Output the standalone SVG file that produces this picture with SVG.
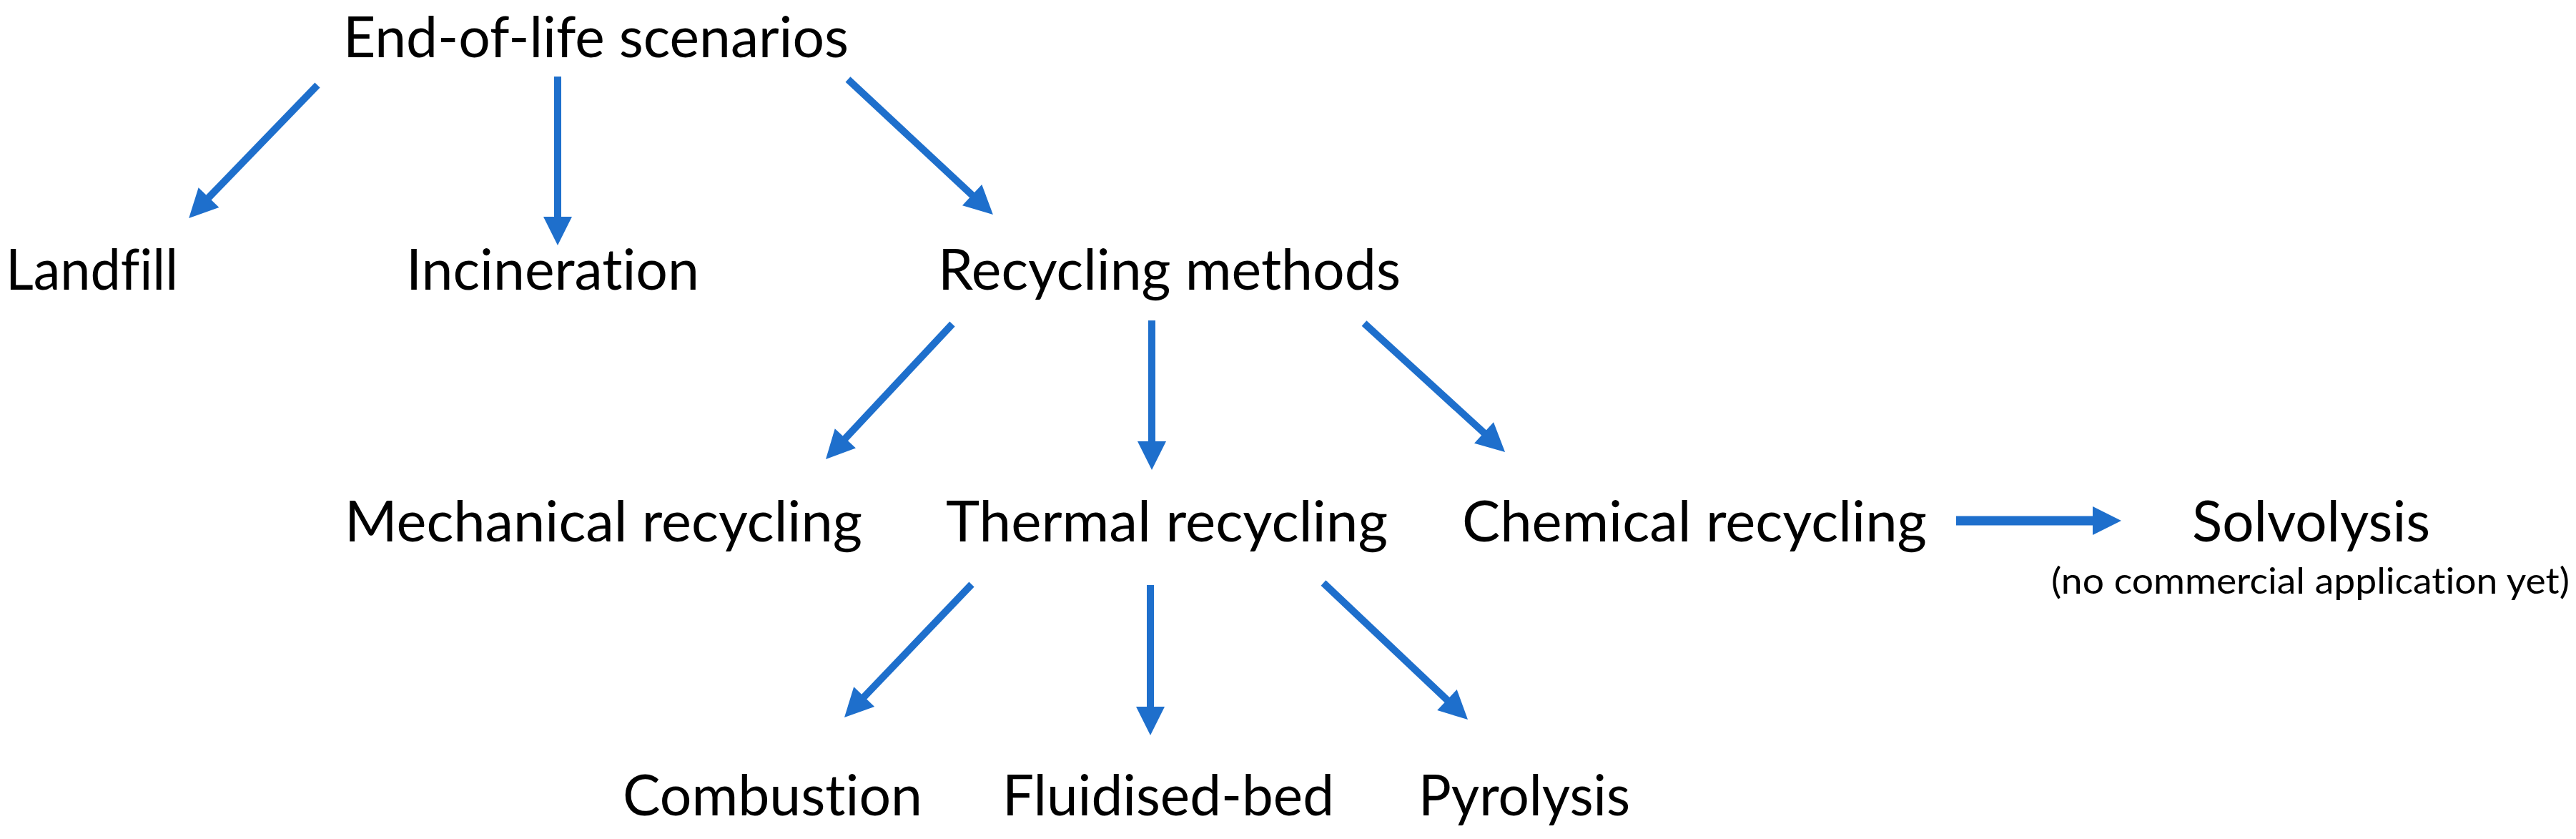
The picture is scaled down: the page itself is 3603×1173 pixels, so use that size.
<svg xmlns="http://www.w3.org/2000/svg" width="3603" height="1173" viewBox="0 0 3603 1173">
<style>
  .lbl { font-family: Lato, "Liberation Sans", sans-serif; font-size: 80px; fill: #000; font-variant-ligatures: none; font-feature-settings: "liga" 0, "clig" 0, "dlig" 0; }
  .sub { font-family: Lato, "Liberation Sans", sans-serif; font-size: 50px; fill: #000; font-variant-ligatures: none; font-feature-settings: "liga" 0, "clig" 0, "dlig" 0; }
  .con { stroke: #1E6FCC; stroke-width: 10; fill: none; marker-end: url(#head); }
  .con.thick { stroke-width: 13; }
</style>
<defs>
  <marker id="head" markerUnits="userSpaceOnUse" markerWidth="42" markerHeight="42" refX="2" refY="20" orient="auto" overflow="visible">
    <path d="M0,0 L40,20 L0,40 Z" fill="#1E6FCC"/>
  </marker>
</defs>
<rect width="3603" height="1173" fill="#fff"/>
<g id="connectors">
  <line class="con" x1="444" y1="119" x2="290.6" y2="277.6"/>
  <line class="con" x1="780" y1="107" x2="780" y2="305"/>
  <line class="con" x1="1186" y1="111" x2="1361.1" y2="274.1"/>
  <line class="con" x1="1332" y1="453" x2="1181.0" y2="614.3"/>
  <line class="con" x1="1611" y1="448" x2="1611" y2="619"/>
  <line class="con" x1="1908" y1="452" x2="2077.0" y2="606.4"/>
  <line class="con thick" x1="2736" y1="728" x2="2929" y2="728"/>
  <line class="con" x1="1359" y1="817" x2="1207.3" y2="975.6"/>
  <line class="con" x1="1609" y1="818" x2="1609" y2="990"/>
  <line class="con" x1="1851" y1="815" x2="2025.4" y2="979.9"/>
</g>
<g id="node-eol"><text class="lbl" x="480" y="80" textLength="707" lengthAdjust="spacingAndGlyphs">End-of-life scenarios</text></g>
<g id="node-landfill"><text class="lbl" x="8" y="405" textLength="241" lengthAdjust="spacingAndGlyphs">Landfill</text></g>
<g id="node-incineration"><text class="lbl" x="568" y="405" textLength="410" lengthAdjust="spacingAndGlyphs">Incineration</text></g>
<g id="node-recycling"><text class="lbl" x="1312" y="405" textLength="647" lengthAdjust="spacingAndGlyphs">Recycling methods</text></g>
<g id="node-mechanical"><text class="lbl" x="482" y="757" textLength="724" lengthAdjust="spacingAndGlyphs">Mechanical recycling</text></g>
<g id="node-thermal"><text class="lbl" x="1323" y="757" textLength="618" lengthAdjust="spacingAndGlyphs">Thermal recycling</text></g>
<g id="node-chemical"><text class="lbl" x="2045" y="757" textLength="650" lengthAdjust="spacingAndGlyphs">Chemical recycling</text></g>
<g id="node-solvolysis">
  <text class="lbl" x="3066" y="757" textLength="333" lengthAdjust="spacingAndGlyphs">Solvolysis</text>
  <text class="sub" x="2869" y="830" textLength="725" lengthAdjust="spacingAndGlyphs">(no commercial application yet)</text>
</g>
<g id="node-combustion"><text class="lbl" x="871" y="1140" textLength="419" lengthAdjust="spacingAndGlyphs">Combustion</text></g>
<g id="node-fluidised"><text class="lbl" x="1402" y="1140" textLength="464" lengthAdjust="spacingAndGlyphs">Fluidised-bed</text></g>
<g id="node-pyrolysis"><text class="lbl" x="1984" y="1140" textLength="296" lengthAdjust="spacingAndGlyphs">Pyrolysis</text></g>
</svg>
